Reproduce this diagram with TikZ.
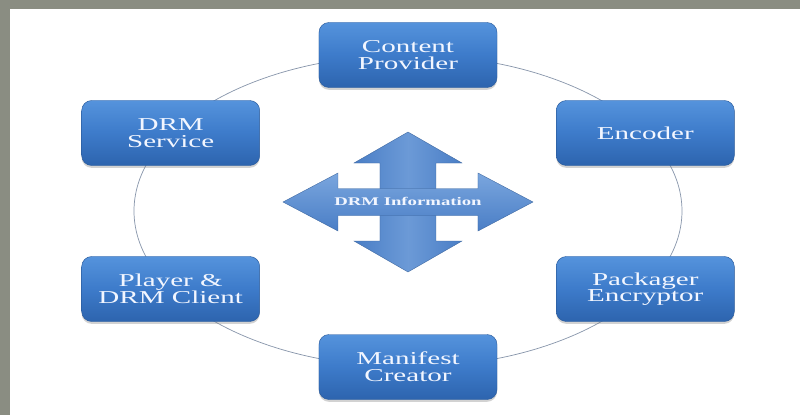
\documentclass[tikz,border=0pt]{standalone}
\usepackage{fontspec}
\setmainfont[FakeStretch=1.6]{Liberation Serif}
\usetikzlibrary{shadows}
\definecolor{bgray}{HTML}{8A8D82}
\definecolor{boxtop}{HTML}{5593DC}
\definecolor{boxmid}{HTML}{3D7BCA}
\definecolor{boxbot}{HTML}{2D64AE}
\definecolor{boxline}{HTML}{2A5B9C}
\definecolor{arrtop}{HTML}{7AA6DE}
\definecolor{arrbot}{HTML}{4A7EC6}
\definecolor{ringcol}{HTML}{8795AA}
\definecolor{txt}{HTML}{F2F6FF}
\begin{document}
\begin{tikzpicture}[x=0.03cm,y=0.03cm,
    box/.style={draw=boxline,line width=0.4pt,rounded corners=0.3cm,
      top color=boxtop,bottom color=boxbot,middle color=boxmid,
      minimum width=5.34cm,minimum height=1.95cm,align=center,
      text=txt,font=\fontsize{15.5}{14.2}\selectfont,
      drop shadow={shadow xshift=0pt,shadow yshift=-2pt,opacity=0.35}},
    ring/.style={draw=ringcol,line width=0.6pt},
    arr/.style={draw=arrbot!80!black,line width=0.3pt}]
  \fill[bgray] (-408,-204) rectangle (392,211);
  \fill[white] (-398,-204) rectangle (392,202);
  \useasboundingbox (-408,-204) rectangle (392,211);

  \draw[ring] (0,0) ellipse [x radius=274, y radius=156];

  \node[box] (C) at (90:274 and 156) {Content\\Provider};
  \node[box] (E) at (30:274 and 156) {Encoder};
  \node[box] (P) at (-30:274 and 156) {Packager\\Encryptor};
  \node[box] (M) at (-90:274 and 156) {Manifest\\Creator};
  \node[box] (L) at (-150:274 and 156) {Player \&\\DRM Client};
  \node[box] (S) at (150:274 and 156) {DRM\\Service};

  \begin{scope}[shift={(0,9)}]
    \draw[arr,left color=arrbot,right color=arrbot,middle color=arrtop!70!arrbot]
      (0,70) -- (54,39) -- (28,39) -- (28,-39) -- (54,-39) -- (0,-70)
      -- (-54,-39) -- (-28,-39) -- (-28,39) -- (-54,39) -- cycle;
    \draw[arr,top color=arrtop,bottom color=arrbot]
      (125,0) -- (70,29) -- (70,13.5) -- (-70,13.5) -- (-70,29) -- (-125,0)
      -- (-70,-29) -- (-70,-13.5) -- (70,-13.5) -- (70,-29) -- cycle;
    \node[text=txt,font=\fontsize{10}{10}\selectfont\bfseries] (I) at (0,1) {DRM Information};
  \end{scope}
\end{tikzpicture}
\end{document}
